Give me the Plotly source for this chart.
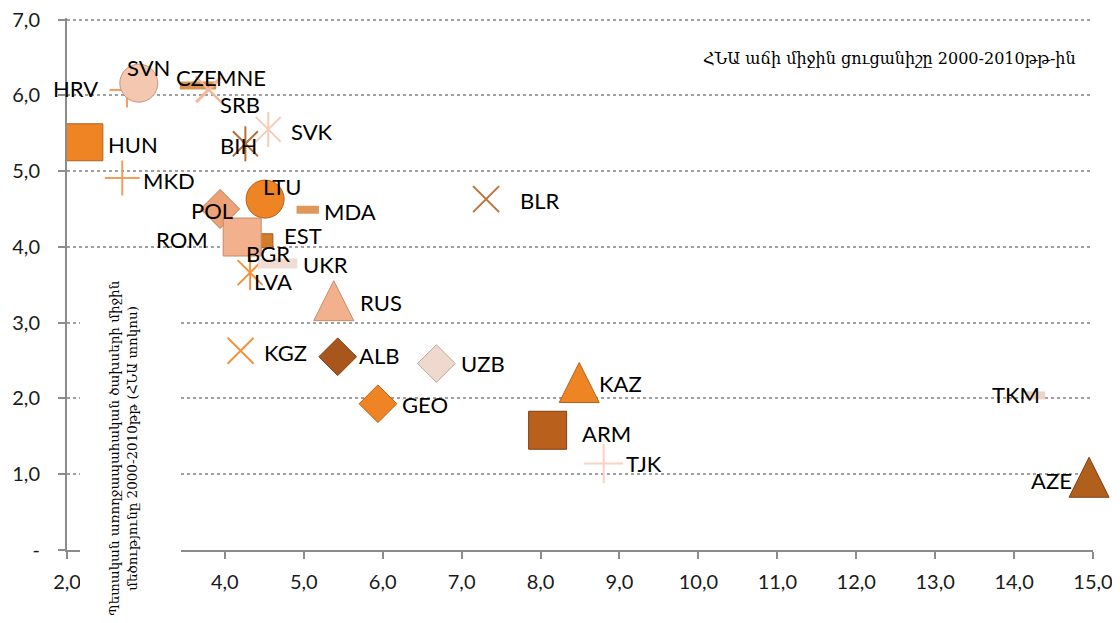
import plotly.graph_objects as go

# ---- data ----
countries = ["HRV", "SVN", "CZE", "MNE", "SRB", "SVK", "BIH", "HUN", "MKD", "LTU",
             "MDA", "POL", "EST", "BGR", "ROM", "LVA", "UKR", "RUS", "KGZ", "ALB",
             "UZB", "GEO", "KAZ", "ARM", "TJK", "TKM", "AZE", "BLR"]
gdp_growth = [2.76, 2.91, 3.66, 3.79, 3.80, 4.55, 4.26, 2.22, 2.70, 4.51,
              5.05, 3.94, 4.52, 4.30, 4.22, 4.32, 4.67, 5.38, 4.20, 5.43,
              6.68, 5.94, 8.49, 8.09, 8.80, 14.27, 14.95, 7.31]
health_spend = [6.07, 6.16, 6.13, 6.08, 6.07, 5.55, 5.36, 5.38, 4.91, 4.63,
                4.49, 4.50, 4.08, 4.01, 4.13, 3.66, 3.78, 3.29, 2.63, 2.55,
                2.46, 1.93, 2.21, 1.58, 1.14, 2.04, 0.96, 4.63]
x_ticks = [2, 4, 5, 6, 7, 8, 9, 10, 11, 12, 13, 14, 15]
y_ticks = [0, 1, 2, 3, 4, 5, 6, 7]
x_tick_text = ["2,0", "4,0", "5,0", "6,0", "7,0", "8,0", "9,0", "10,0", "11,0", "12,0", "13,0", "14,0", "15,0"]
y_tick_text = ["-", "1,0", "2,0", "3,0", "4,0", "5,0", "6,0", "7,0"]
y_title = "Պետական առողջապահական ծախսերի միջին<br>մեծությունը 2000-2010թթ (ՀՆԱ տոկոս)"
corner_note = "ՀՆԱ աճի միջին ցուցանիշը 2000-2010թթ-ին"

# ---- styles: (symbol, size, fill colour, outline colour, line width) ----
ORANGE = "#EF8424"
PEACH = "#F3B08D"
BROWN = "#A9561C"
TAN = "#D9924F"
LORANGE = "#F59E5C"
SALMON = "#F6B89C"
style = {
    "HRV": ("cross-thin", 25, LORANGE, LORANGE, 2),
    "SVN": ("circle", 38, "#F4C7B0", "#C9957A", 1),
    "CZE": ("line-ew", 26, TAN, TAN, 8),
    "MNE": ("x-thin", 25, SALMON, SALMON, 2),
    "SRB": ("x-thin", 25, SALMON, SALMON, 2),
    "SVK": ("asterisk6", 25, "#F8CBB6", "#F8CBB6", 2),
    "BIH": ("asterisk6", 25, "#B56E38", "#B56E38", 2),
    "HUN": ("square", 37, ORANGE, "#B5601A", 1),
    "MKD": ("cross-thin", 25, LORANGE, LORANGE, 2),
    "LTU": ("circle", 38, ORANGE, "#B5601A", 1),
    "MDA": ("line-ew", 16, "#DD985A", "#DD985A", 8),
    "POL": ("diamond", 30, "#EDA176", "#C07A50", 1),
    "EST": ("square", 14, "#D47D28", "#A35A18", 1),
    "BGR": ("square", 14, PEACH, PEACH, 1),
    "ROM": ("square", 38, PEACH, "#C48A68", 1),
    "LVA": ("asterisk6", 25, "#F2933F", "#F2933F", 2),
    "UKR": ("line-ew", 28, "#F0DCD3", "#F0DCD3", 10),
    "RUS": ("tri", 40, PEACH, "#C48A68", 1),
    "KGZ": ("x-thin", 26, "#F2933F", "#F2933F", 2),
    "ALB": ("diamond", 29, BROWN, "#7E3E12", 1),
    "UZB": ("diamond", 29, "#EFD8CE", "#BFA89E", 1),
    "GEO": ("diamond", 29, ORANGE, "#B5601A", 1),
    "KAZ": ("tri", 40, ORANGE, "#B5601A", 1),
    "ARM": ("square", 38, "#B8601C", "#7E3E12", 1),
    "TJK": ("cross-thin", 28, "#F9D2C0", "#F9D2C0", 2),
    "TKM": ("line-ew", 14, "#EDD2C5", "#EDD2C5", 8),
    "AZE": ("tri", 40, "#B0601C", "#7E3E12", 1),
    "BLR": ("x-thin", 26, "#C0723A", "#C0723A", 2),
}
# label offsets in pixels (right, up) relative to each point
label_shift = {
    "HRV": (-51, 1), "SVN": (10, 16), "CZE": (-2, 8), "MNE": (33, 12), "SRB": (31, -15),
    "SVK": (44, -2), "BIH": (-7, -2), "HUN": (49, -2), "MKD": (47, -3), "LTU": (17, 13),
    "MDA": (42, -2), "POL": (-8, -2), "EST": (37, 5), "BGR": (19, -7), "ROM": (-60, -2),
    "LVA": (23, -9), "UKR": (48, -1), "RUS": (47, -2), "KGZ": (45, -2), "ALB": (41, 1),
    "UZB": (47, 0), "GEO": (47, -1), "KAZ": (41, -1), "ARM": (59, -3), "TJK": (40, 0),
    "TKM": (-19, 1), "AZE": (-38, -3), "BLR": (54, -1),
}
LABEL_FONT = dict(family="Lato, Open Sans, sans-serif", size=22, color="#000000")

fig = go.Figure()
for c, xv, yv in zip(countries, gdp_growth, health_spend):
    sym, size, fill, outline, lw = style[c]
    if sym == "asterisk6":
        parts = [dict(symbol="x-thin", size=size), dict(symbol="line-ns", size=size)]
    elif sym == "tri":
        # upward isosceles triangle centred on the point
        parts = [dict(symbol="arrow-down", size=size, angle=180, standoff=size / 2)]
    else:
        parts = [dict(symbol=sym, size=size)]
    for p in parts:
        is_line = p["symbol"] in ("cross-thin", "x-thin", "line-ns", "line-ew")
        fig.add_trace(go.Scatter(
            x=[xv], y=[yv], mode="markers", cliponaxis=False, showlegend=False,
            hoverinfo="skip",
            marker=dict(color=fill, line=dict(color=fill if is_line else outline, width=lw), **p),
        ))

for c, xv, yv in zip(countries, gdp_growth, health_spend):
    dx, dy = label_shift[c]
    fig.add_annotation(x=xv, y=yv, text=c, showarrow=False, xshift=dx, yshift=dy,
                       font=LABEL_FONT, xanchor="center", yanchor="middle")

# white box behind the y-axis title (it sits inside the plot, covering grid/axis)
fig.add_shape(type="rect", xref="paper", yref="paper", layer="above",
              x0=(80 - 67) / 1026, x1=(181 - 67) / 1026,
              y0=(550 - 630) / 532, y1=(550 - 270) / 532,
              fillcolor="white", line=dict(width=0))
fig.add_annotation(xref="paper", yref="paper", x=(123 - 67) / 1026, y=(550 - 448) / 532,
                   text=y_title, textangle=-90, showarrow=False,
                   xanchor="center", yanchor="middle",
                   font=dict(family="DejaVu Serif, serif", size=13.5, color="#000000"))
fig.add_annotation(xref="paper", yref="paper", x=(1078 - 67) / 1026, y=(550 - 58) / 532,
                   text=corner_note, showarrow=False, xanchor="right", yanchor="middle",
                   font=dict(family="DejaVu Serif, serif", size=16, color="#000000"))

AXIS_GRAY = "#8C8C8C"
# page has an 8px body margin, so the figure is 16px smaller than the window
fig.update_layout(
    width=1104, height=607, autosize=False,
    margin=dict(l=59, r=19, t=10, b=65, autoexpand=False),
    paper_bgcolor="white", plot_bgcolor="white",
    xaxis=dict(range=[2, 15], tickvals=x_ticks, ticktext=x_tick_text, automargin=False,
               showgrid=False, zeroline=False, showline=True, linecolor=AXIS_GRAY,
               linewidth=2, ticks="outside", ticklen=7, tickwidth=2, tickcolor=AXIS_GRAY,
               ticklabelstandoff=6, ticklabeloverflow="allow",
               tickfont=dict(family="Lato, Open Sans, sans-serif", size=20, color="#1a1a1a")),
    yaxis=dict(range=[0, 7.02], tickvals=y_ticks, ticktext=y_tick_text, automargin=False,
               showgrid=True, gridcolor="#A0A0A0", griddash="dot", gridwidth=1.5,
               zeroline=False, showline=True, linecolor=AXIS_GRAY, linewidth=2,
               ticks="outside", ticklen=7, tickwidth=2, tickcolor=AXIS_GRAY,
               ticklabelstandoff=14, ticklabeloverflow="allow",
               tickfont=dict(family="Lato, Open Sans, sans-serif", size=20, color="#1a1a1a")),
)

fig.write_html("out.html")
